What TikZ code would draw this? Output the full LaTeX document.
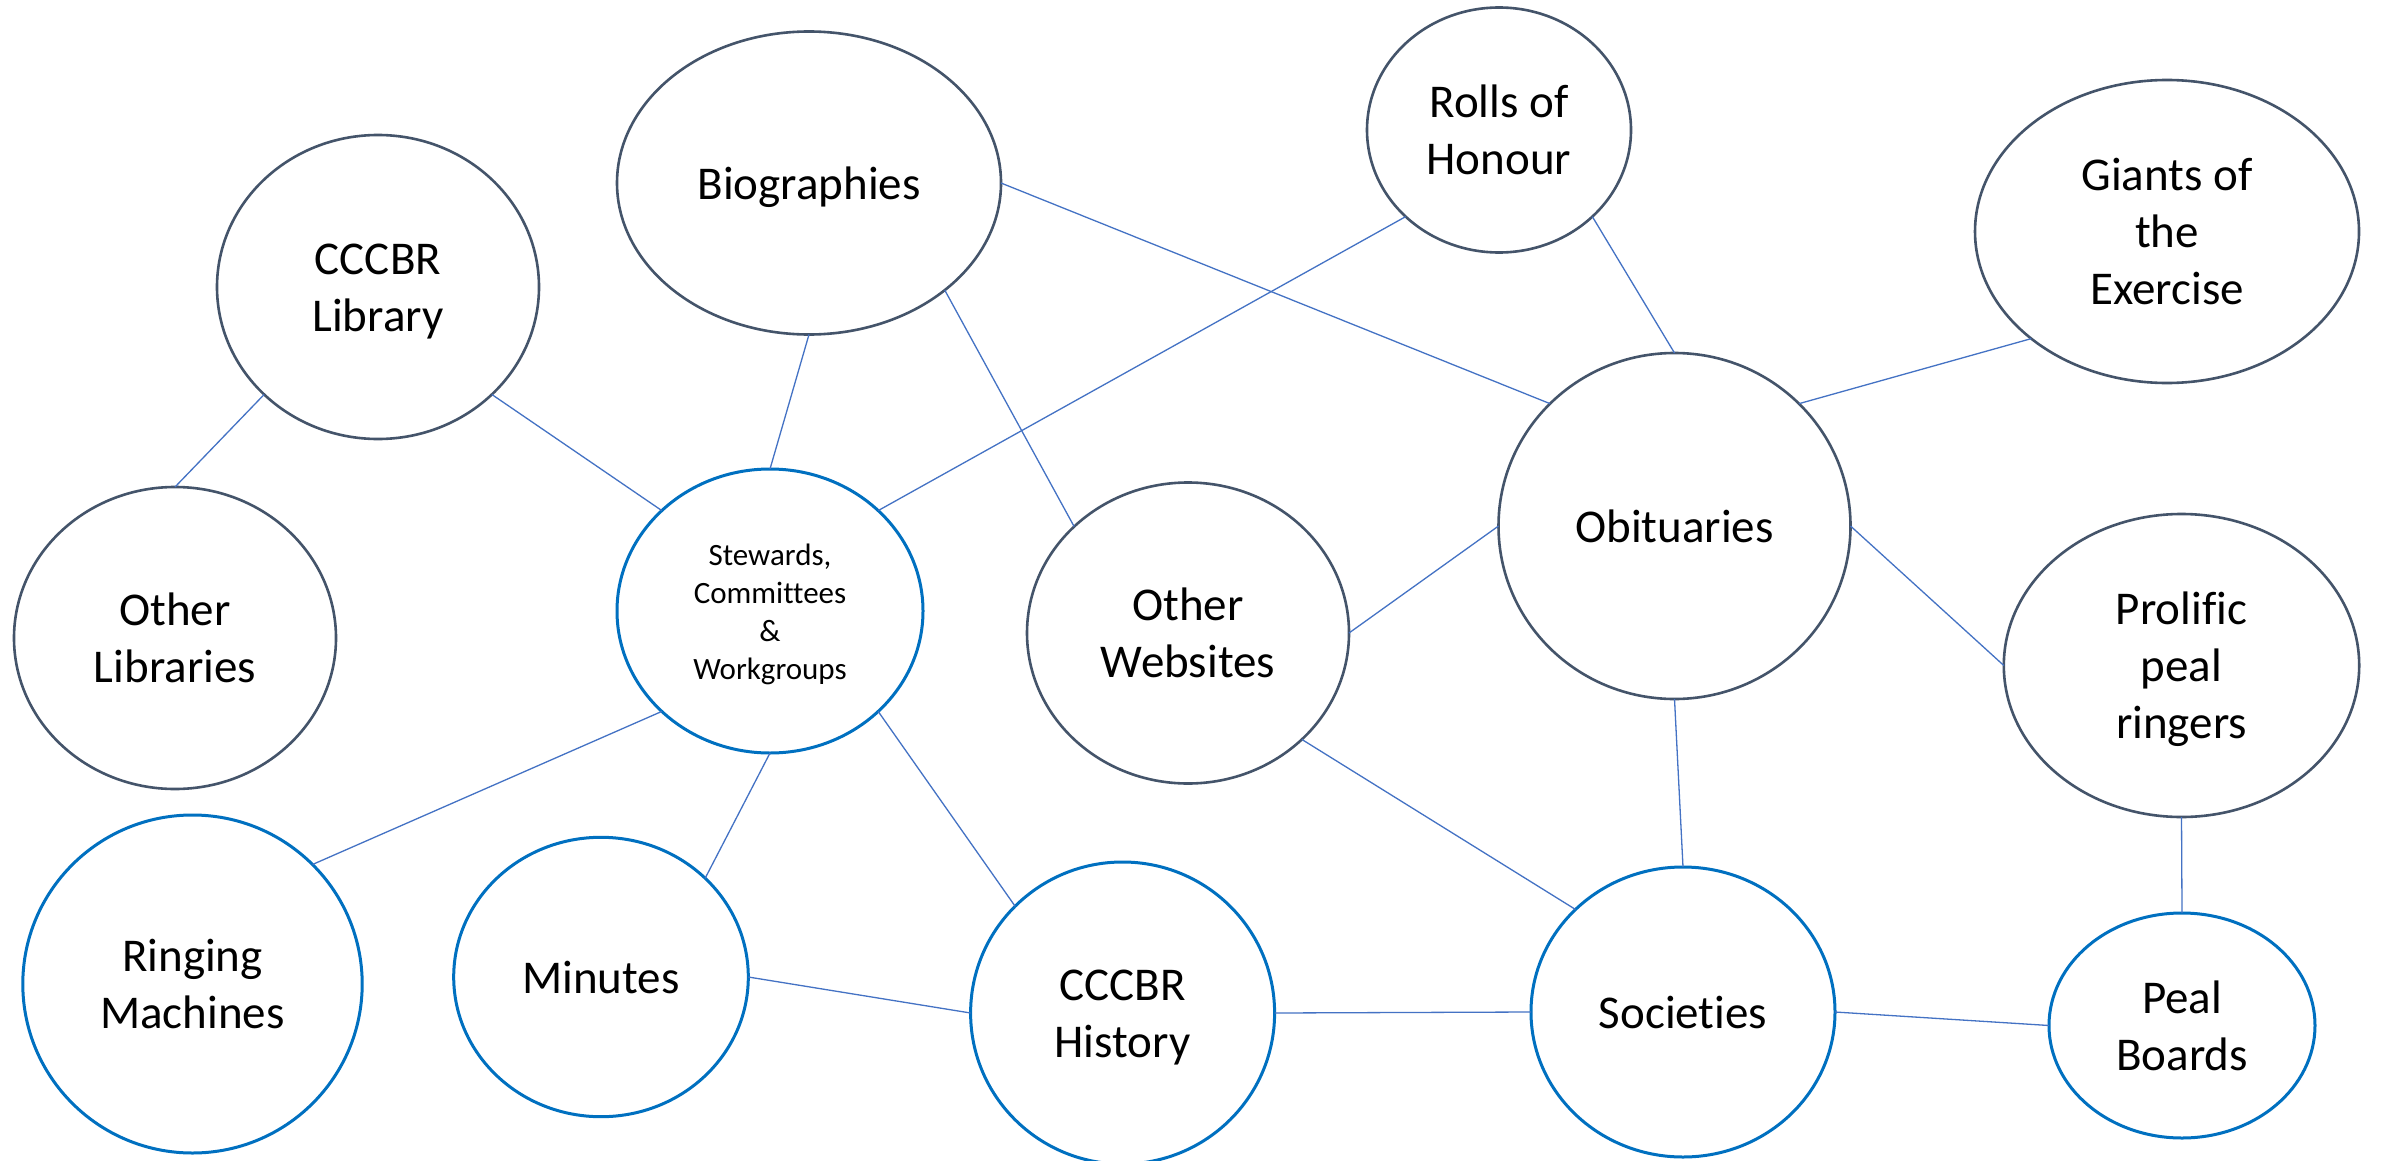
\documentclass[tikz,border=0pt]{standalone}
\usepackage{fontspec}
\setmainfont{Carlito}[Ligatures={NoCommon}]
\usetikzlibrary{shapes.geometric}
\definecolor{darkline}{HTML}{44546A}
\definecolor{blueline}{HTML}{0070C0}
\definecolor{conline}{HTML}{4472C4}
\newcommand\tstrut{\rule[-6pt]{0pt}{28pt}}
\newcommand\sstrut{\rule[-3.5pt]{0pt}{18pt}}
\begin{document}
\begin{tikzpicture}[x=0.5pt,y=-0.5pt,
  ell/.style 2 args={ellipse, minimum width=#1pt, minimum height=#2pt,
    inner sep=0pt, outer sep=0pt, align=center, fill=white,
    font=\fontsize{23.5}{28.5}\selectfont},
  darkell/.style={draw=darkline, line width=1.3pt},
  blueell/.style={draw=blueline, line width=1.5pt},
  con/.style={draw=conline, line width=0.65pt}]
\fill[white] (0,0) rectangle (2382,1161);
\useasboundingbox (0,0) rectangle (2382,1161);
% nodes
\node[ell={161}{152}, darkell] (lib) at (378,287) {\tstrut CCCBR\\Library\tstrut};
\node[ell={192}{151.5}, darkell] (bio) at (809,183) {\tstrut Biographies};
\node[ell={132}{122.5}, darkell] (rolls) at (1499,130) {\tstrut Rolls of\\Honour\tstrut};
\node[ell={192}{151.5}, darkell] (giants) at (2167,231.5) {\tstrut Giants of\\the\\Exercise\tstrut};
\node[ell={161}{151}, darkell] (otherlib) at (175,638) {\tstrut Other\\Libraries\tstrut};
\node[ell={153}{142}, blueell, font=\fontsize{15.5}{19}\selectfont] (stew) at (770,611) {\sstrut Stewards,\\Committees\\\&\\Workgroups\sstrut};
\node[ell={161}{150.5}, darkell] (web) at (1188,633) {\tstrut Other\\Websites\tstrut};
\node[ell={176}{173}, darkell] (obit) at (1674.5,526) {\tstrut Obituaries};
\node[ell={177.7}{151.5}, darkell] (prolific) at (2181.5,665.5) {\tstrut Prolific\\peal\\ringers\tstrut};
\node[ell={169.7}{169}, blueell] (ring) at (192.5,984) {\tstrut Ringing\\Machines\tstrut};
\node[ell={147.3}{139.7}, blueell] (minutes) at (601,977) {\tstrut Minutes};
\node[ell={152}{151}, blueell] (hist) at (1122.6,1013) {\tstrut CCCBR\\History\tstrut};
\node[ell={152}{145}, blueell] (soc) at (1683,1012) {\tstrut Societies};
\node[ell={133}{112.5}, blueell] (peal) at (2182,1025.5) {\tstrut Peal\\Boards\tstrut};
% connectors
\path[con] (lib.south west) -- (otherlib.north);
\path[con] (lib.south east) -- (stew.north west);
\path[con] (bio.south) -- (stew.north);
\path[con] (bio.south east) -- (web.north west);
\path[con] (bio.east) -- (obit.north west);
\path[con] (rolls.south west) -- (stew.north east);
\path[con] (rolls.south east) -- (obit.north);
\path[con] (giants.south west) -- (obit.north east);
\path[con] (obit.west) -- (web.east);
\path[con] (obit.east) -- (prolific.west);
\path[con] (obit.south) -- (soc.north);
\path[con] (web.south east) -- (soc.north west);
\path[con] (prolific.south) -- (peal.north);
\path[con] (stew.south west) -- (ring.north east);
\path[con] (stew.south) -- (minutes.north east);
\path[con] (stew.south east) -- (hist.north west);
\path[con] (minutes.east) -- (hist.west);
\path[con] (hist.east) -- (soc.west);
\path[con] (soc.east) -- (peal.west);
\end{tikzpicture}
\end{document}
